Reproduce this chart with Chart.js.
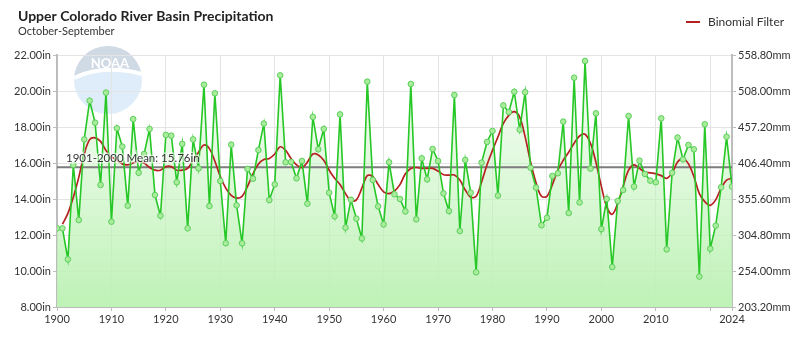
<!DOCTYPE html>
<html>
<head>
<meta charset="utf-8">
<script src="https://cdn.jsdelivr.net/npm/chart.js@4/dist/chart.umd.min.js"></script>
<style>
  html, body { margin: 0; padding: 0; background: #fff; }
  canvas { display: block; }
</style>
</head>
<body>
<canvas id="precipChart" width="800" height="339"></canvas>
<script>
// Upper Colorado River Basin, Oct-Sep precipitation (inches)
const startYear = 1900;
const precip = [
  12.37, 12.37, 10.65, 15.89, 12.83, 17.31, 19.46, 18.24, 14.78, 19.91,
  12.74, 17.93, 16.91, 13.63, 18.44, 15.46, 16.50, 17.89, 14.22, 13.07,
  17.56, 17.52, 14.93, 17.06, 12.37, 17.31, 15.70, 20.35, 13.61, 19.87,
  15.00, 11.54, 17.02, 13.65, 11.54, 15.67, 15.13, 16.72, 18.19, 13.94,
  14.81, 20.87, 16.04, 16.06, 15.15, 16.11, 13.74, 18.56, 16.76, 17.89,
  14.35, 13.04, 18.70, 12.41, 13.96, 12.91, 11.81, 20.52, 15.06, 13.59,
  12.59, 16.04, 14.26, 14.00, 13.31, 20.39, 12.87, 16.26, 15.09, 16.78,
  16.11, 14.31, 13.33, 19.78, 12.22, 16.17, 14.35, 9.93, 16.02, 17.17,
  17.78, 14.19, 19.20, 18.83, 19.96, 17.85, 19.93, 15.74, 14.63, 12.54,
  12.96, 15.28, 15.43, 18.30, 13.22, 20.74, 13.81, 21.67, 15.69, 18.76,
  12.33, 14.00, 10.22, 13.89, 14.50, 18.61, 14.69, 16.13, 15.39, 15.02,
  14.93, 18.48, 11.20, 15.46, 17.41, 16.20, 17.00, 16.76, 9.69, 18.15,
  11.24, 12.52, 14.65, 17.46, 14.69
];
// smoothed curve (first year has none)
const binomial = [
  null, 12.60, 13.20, 14.10, 15.20, 16.50, 17.30, 17.40, 17.20, 16.70,
  16.35, 16.15, 15.95, 15.90, 16.00, 16.10, 16.00, 15.75, 15.60, 15.60,
  15.80, 15.80, 15.60, 15.60, 15.70, 16.15, 16.60, 17.00, 16.80, 16.10,
  15.25, 14.60, 14.20, 14.05, 14.15, 14.70, 15.40, 15.95, 16.20, 16.25,
  16.50, 16.90, 16.70, 16.25, 15.90, 15.75, 16.05, 16.50, 16.45, 16.15,
  15.60, 15.15, 14.80, 14.30, 13.90, 13.95, 14.60, 15.30, 15.25, 14.80,
  14.40, 14.30, 14.45, 14.80, 15.40, 15.70, 15.75, 15.70, 15.70, 15.70,
  15.55, 15.35, 15.33, 15.33, 15.05, 14.50, 14.10, 14.15, 14.95, 15.90,
  16.70, 17.45, 18.20, 18.65, 18.85, 18.55, 17.45, 16.05, 14.90, 14.15,
  14.15, 14.80, 15.60, 16.15, 16.60, 17.10, 17.50, 17.60, 17.10, 16.05,
  14.70, 13.55, 13.15, 13.75, 14.70, 15.60, 15.90, 15.70, 15.50, 15.45,
  15.40, 15.30, 15.15, 15.45, 16.05, 16.25, 15.95, 15.25, 14.30, 13.85,
  13.65, 13.95, 14.60, 15.05, 15.15
];
const years = precip.map((v, i) => startYear + i);
const meanValue = 15.76;
const meanLabel = '1901-2000 Mean: 15.76in';
const xTickYears = [1900, 1910, 1920, 1930, 1940, 1950, 1960, 1970, 1980, 1990, 2000, 2010, 2020, 2024];
const xHiddenLabels = [2020];
const yTicksIn = [8, 10, 12, 14, 16, 18, 20, 22];

Chart.defaults.font.family = 'Lato';
Chart.defaults.font.size = 11;
Chart.defaults.color = '#333';

const gridColor = '#e4e4e4';
const axisColor = '#bdbdbd';

const decor = {
  id: 'decor',
  beforeDraw(chart) {
    const c = chart.ctx;
    c.save();
    c.fillStyle = '#fff';
    c.fillRect(0, 0, chart.width, chart.height);
    // faint NOAA watermark
    const cx = 108, cy = 80, r = 34;
    c.beginPath();
    c.arc(cx, cy, r, 0, Math.PI * 2);
    c.fillStyle = 'rgba(214,233,248,0.8)';
    c.fill();
    c.save();
    c.beginPath();
    c.arc(cx, cy, r, 0, Math.PI * 2);
    c.clip();
    c.beginPath();
    c.moveTo(cx - r, cy - 4);
    c.quadraticCurveTo(cx - 5, cy - 18, cx + r, cy - 8);
    c.lineTo(cx + r, cy - r);
    c.lineTo(cx - r, cy - r);
    c.closePath();
    c.fillStyle = 'rgba(205,214,226,0.85)';
    c.fill();
    c.beginPath();
    c.moveTo(cx - r, cy - 2);
    c.quadraticCurveTo(cx - 5, cy - 16, cx + r, cy - 6);
    c.lineWidth = 4;
    c.strokeStyle = '#fff';
    c.stroke();
    c.restore();
    c.font = 'bold 13px Lato';
    c.fillStyle = '#fff';
    c.textAlign = 'center';
    c.textBaseline = 'middle';
    c.fillText('NOAA', cx + 2, cy - 16);
    c.restore();
  },
  afterDraw(chart) {
    const c = chart.ctx;
    const area = chart.chartArea;
    const y = chart.scales.y.getPixelForValue(meanValue);
    c.save();
    c.font = '11.5px Lato';
    c.textBaseline = 'bottom';
    c.textAlign = 'left';
    c.lineWidth = 3;
    c.strokeStyle = 'rgba(255,255,255,0.6)';
    c.strokeText(meanLabel, area.left + 9, y - 3);
    c.fillStyle = '#333';
    c.fillText(meanLabel, area.left + 9, y - 3);

    c.font = 'bold 14px Lato';
    c.fillStyle = '#222';
    c.textBaseline = 'alphabetic';
    c.fillText('Upper Colorado River Basin Precipitation', 18, 21);
    c.font = '11px Lato';
    c.fillStyle = '#333';
    c.fillText('October-September', 18, 35);

    // legend
    c.strokeStyle = '#b52020';
    c.lineWidth = 2;
    c.beginPath();
    c.moveTo(686, 22);
    c.lineTo(700, 22);
    c.stroke();
    c.font = '12px Lato';
    c.fillStyle = '#333';
    c.textBaseline = 'middle';
    c.fillText('Binomial Filter', 708, 22);
    c.restore();
  }
};

const greenFill = (context) => {
  const area = context.chart.chartArea;
  if (!area) return 'rgba(190,242,182,0.6)';
  const g = context.chart.ctx.createLinearGradient(0, area.top, 0, area.bottom);
  g.addColorStop(0, 'rgba(195,243,188,0.08)');
  g.addColorStop(1, 'rgba(190,242,182,1)');
  return g;
};

const config = {
  type: 'line',
  data: {
    datasets: [
      {
        label: 'Mean',
        data: [{ x: years[0], y: meanValue }, { x: years[years.length - 1], y: meanValue }],
        borderColor: '#7d7d7d',
        borderWidth: 2,
        pointRadius: 0,
        fill: false,
        order: 3
      },
      {
        label: 'Binomial Filter',
        data: years.map((yr, i) => ({ x: yr, y: binomial[i] })),
        borderColor: '#b52020',
        borderWidth: 1.7,
        pointRadius: 0,
        tension: 0.35,
        fill: false,
        order: 2
      },
      {
        label: 'Precipitation',
        data: years.map((yr, i) => ({ x: yr, y: precip[i] })),
        borderColor: '#26c726',
        borderWidth: 1.6,
        backgroundColor: greenFill,
        fill: 'start',
        tension: 0,
        pointRadius: 2.8,
        pointBackgroundColor: '#a8ec9c',
        pointBorderColor: '#5ccf5c',
        pointBorderWidth: 1,
        order: 1
      }
    ]
  },
  options: {
    responsive: false,
    animation: false,
    layout: { padding: { top: 55, left: 0, right: 0, bottom: 0 } },
    plugins: {
      legend: { display: false },
      tooltip: { enabled: false },
      filler: { drawTime: 'beforeDatasetsDraw' }
    },
    scales: {
      x: {
        type: 'linear',
        min: 1900,
        max: 2024,
        afterBuildTicks: (axis) => { axis.ticks = xTickYears.map(v => ({ value: v })); },
        afterFit: (axis) => { axis.height = 32; },
        ticks: {
          autoSkip: false,
          maxRotation: 0,
          padding: 2,
          callback: (v) => xHiddenLabels.includes(v) ? '' : String(v)
        },
        grid: { color: gridColor, tickLength: 4, tickColor: axisColor },
        border: { color: axisColor, width: 2 }
      },
      y: {
        position: 'left',
        min: 8,
        max: 22,
        afterBuildTicks: (axis) => { axis.ticks = yTicksIn.map(v => ({ value: v })); },
        afterFit: (axis) => { axis.width = 57; },
        ticks: { padding: 2, callback: (v) => v.toFixed(2) + 'in' },
        grid: { color: gridColor, tickLength: 4, tickColor: axisColor },
        border: { color: axisColor, width: 2 }
      },
      y2: {
        position: 'right',
        min: 8,
        max: 22,
        afterBuildTicks: (axis) => { axis.ticks = yTicksIn.map(v => ({ value: v })); },
        afterFit: (axis) => { axis.width = 68; },
        ticks: { padding: 2, callback: (v) => (v * 25.4).toFixed(2) + 'mm' },
        grid: { drawOnChartArea: false, tickLength: 4, tickColor: axisColor },
        border: { color: axisColor, width: 2 }
      }
    }
  },
  plugins: [decor]
};

const precipChart = new Chart(document.getElementById('precipChart'), config);
</script>
</body>
</html>
